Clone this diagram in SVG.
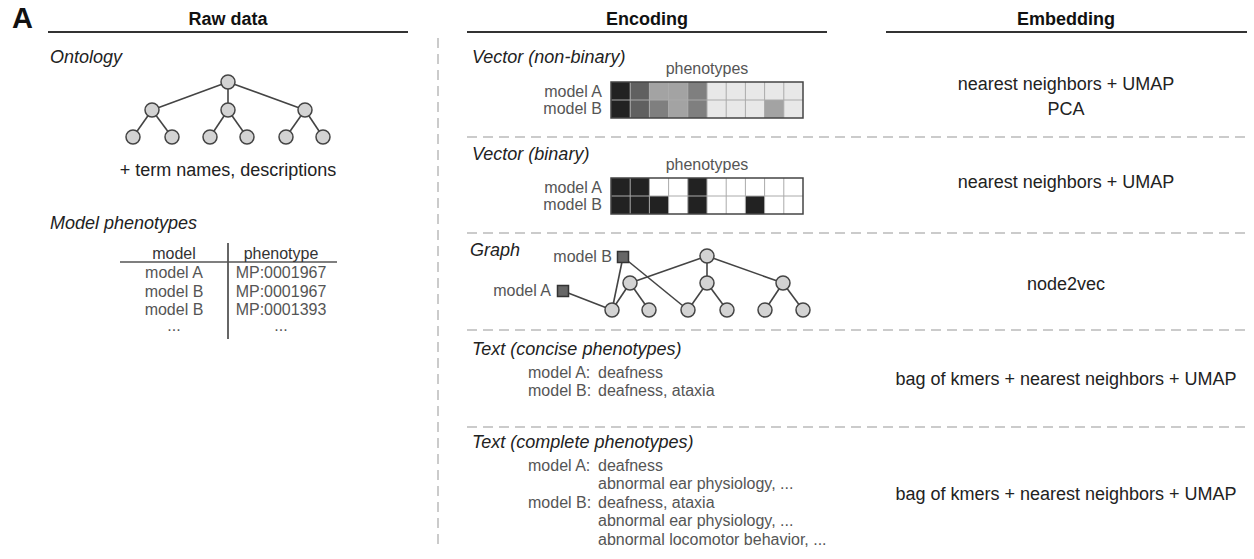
<svg xmlns="http://www.w3.org/2000/svg" width="1254" height="559" viewBox="0 0 1254 559">
<style>
text{font-family:"Liberation Sans",Arial,sans-serif}
.hdr{font-size:18px;font-weight:bold;fill:#111;text-anchor:middle}
.ttl{font-size:18px;font-style:italic;fill:#222}
.lbl{font-size:16px;fill:#555}
.end{text-anchor:end}
.mid{text-anchor:middle}
.emb{font-size:18px;fill:#222;text-anchor:middle}
.hline{stroke:#333;stroke-width:2}
.dash{stroke:#bbb;stroke-width:1.5;stroke-dasharray:10 6;fill:none}
.edge{stroke:#444;stroke-width:1.6;fill:none}
.nd{fill:#d3d3d3;stroke:#444;stroke-width:1.5}
.sq{fill:#666;stroke:#333;stroke-width:1.5}
.gl{stroke:#aaa;stroke-width:1}
.gb{fill:none;stroke:#444;stroke-width:1.5}
</style>
<defs>
<circle id="c" r="7" class="nd"/>
</defs>
<rect width="1254" height="559" fill="#fff"/>

<g id="headers">
<text x="12" y="28" style="font-size:29px;font-weight:bold;fill:#111">A</text>
<text x="228" y="25" class="hdr">Raw data</text>
<line x1="48" y1="32" x2="408" y2="32" class="hline"/>
<text x="647" y="25" class="hdr">Encoding</text>
<line x1="467" y1="32" x2="827" y2="32" class="hline"/>
<text x="1066" y="25" class="hdr">Embedding</text>
<line x1="886" y1="32" x2="1247" y2="32" class="hline"/>
</g>

<g id="separators">
<line x1="438" y1="38" x2="438" y2="548" class="dash"/>
<line x1="467" y1="137" x2="1247" y2="137" class="dash"/>
<line x1="467" y1="233" x2="1247" y2="233" class="dash"/>
<line x1="467" y1="330" x2="1247" y2="330" class="dash"/>
<line x1="467" y1="427" x2="1247" y2="427" class="dash"/>
</g>

<g id="ontology">
<text x="50" y="63" class="ttl">Ontology</text>
<g class="edge">
<line x1="228" y1="82" x2="152" y2="110"/>
<line x1="228" y1="82" x2="228" y2="110"/>
<line x1="228" y1="82" x2="305" y2="110"/>
<line x1="152" y1="110" x2="133" y2="137"/>
<line x1="152" y1="110" x2="172" y2="137"/>
<line x1="228" y1="110" x2="210" y2="137"/>
<line x1="228" y1="110" x2="247" y2="137"/>
<line x1="305" y1="110" x2="286" y2="137"/>
<line x1="305" y1="110" x2="323" y2="137"/>
</g>
<use href="#c" x="228" y="82"/>
<use href="#c" x="152" y="110"/>
<use href="#c" x="228" y="110"/>
<use href="#c" x="305" y="110"/>
<use href="#c" x="133" y="137"/>
<use href="#c" x="172" y="137"/>
<use href="#c" x="210" y="137"/>
<use href="#c" x="247" y="137"/>
<use href="#c" x="286" y="137"/>
<use href="#c" x="323" y="137"/>
<text x="228" y="176" class="mid" style="font-size:18px;fill:#222">+ term names, descriptions</text>
</g>

<g id="model-phenotypes">
<text x="50" y="229" class="ttl">Model phenotypes</text>
<line x1="228" y1="243" x2="228" y2="339" stroke="#333" stroke-width="1.5"/>
<line x1="120" y1="262" x2="337" y2="262" stroke="#555" stroke-width="1.5"/>
<text x="174" y="259" class="lbl mid" style="fill:#333">model</text>
<text x="281" y="259" class="lbl mid" style="fill:#333">phenotype</text>
<text x="174" y="278" class="lbl mid">model A</text>
<text x="174" y="297" class="lbl mid">model B</text>
<text x="174" y="315" class="lbl mid">model B</text>
<text x="174" y="331" class="lbl mid">...</text>
<text x="281" y="278" class="lbl mid">MP:0001967</text>
<text x="281" y="297" class="lbl mid">MP:0001967</text>
<text x="281" y="315" class="lbl mid">MP:0001393</text>
<text x="281" y="331" class="lbl mid">...</text>
</g>

<g id="vector-nonbinary">
<text x="472" y="63" class="ttl">Vector (non-binary)</text>
<text x="707" y="74" class="lbl mid">phenotypes</text>
<text x="602" y="97" class="lbl end">model A</text>
<text x="602" y="114" class="lbl end">model B</text>
<g>
<rect x="611" y="82" width="19.2" height="18" fill="#222"/>
<rect x="630.2" y="82" width="19.2" height="18" fill="#606060"/>
<rect x="649.4" y="82" width="19.2" height="18" fill="#a3a3a3"/>
<rect x="668.6" y="82" width="19.2" height="18" fill="#a3a3a3"/>
<rect x="687.8" y="82" width="19.2" height="18" fill="#7f7f7f"/>
<rect x="707" y="82" width="96" height="18" fill="#e8e8e8"/>
<rect x="611" y="100" width="19.2" height="18" fill="#222"/>
<rect x="630.2" y="100" width="19.2" height="18" fill="#606060"/>
<rect x="649.4" y="100" width="19.2" height="18" fill="#7f7f7f"/>
<rect x="668.6" y="100" width="19.2" height="18" fill="#a3a3a3"/>
<rect x="687.8" y="100" width="19.2" height="18" fill="#7f7f7f"/>
<rect x="707" y="100" width="96" height="18" fill="#e8e8e8"/>
<rect x="764.6" y="100" width="19.2" height="18" fill="#a3a3a3"/>
</g>
<g class="gl">
<line x1="611" y1="100" x2="803" y2="100"/>
<line x1="630.2" y1="82" x2="630.2" y2="118"/>
<line x1="649.4" y1="82" x2="649.4" y2="118"/>
<line x1="668.6" y1="82" x2="668.6" y2="118"/>
<line x1="687.8" y1="82" x2="687.8" y2="118"/>
<line x1="707" y1="82" x2="707" y2="118"/>
<line x1="726.2" y1="82" x2="726.2" y2="118"/>
<line x1="745.4" y1="82" x2="745.4" y2="118"/>
<line x1="764.6" y1="82" x2="764.6" y2="118"/>
<line x1="783.8" y1="82" x2="783.8" y2="118"/>
</g>
<rect x="611" y="82" width="192" height="36" class="gb"/>
</g>

<g id="vector-binary">
<text x="472" y="160" class="ttl">Vector (binary)</text>
<text x="707" y="170" class="lbl mid">phenotypes</text>
<text x="602" y="193" class="lbl end">model A</text>
<text x="602" y="210" class="lbl end">model B</text>
<rect x="611" y="178" width="192" height="36" fill="#fff"/>
<g fill="#222">
<rect x="611" y="178" width="38.4" height="18"/>
<rect x="687.8" y="178" width="19.2" height="36"/>
<rect x="611" y="196" width="57.6" height="18"/>
<rect x="745.4" y="196" width="19.2" height="18"/>
</g>
<g class="gl">
<line x1="611" y1="196" x2="803" y2="196"/>
<line x1="630.2" y1="178" x2="630.2" y2="214"/>
<line x1="649.4" y1="178" x2="649.4" y2="214"/>
<line x1="668.6" y1="178" x2="668.6" y2="214"/>
<line x1="687.8" y1="178" x2="687.8" y2="214"/>
<line x1="707" y1="178" x2="707" y2="214"/>
<line x1="726.2" y1="178" x2="726.2" y2="214"/>
<line x1="745.4" y1="178" x2="745.4" y2="214"/>
<line x1="764.6" y1="178" x2="764.6" y2="214"/>
<line x1="783.8" y1="178" x2="783.8" y2="214"/>
</g>
<rect x="611" y="178" width="192" height="36" class="gb"/>
</g>

<g id="graph">
<text x="470" y="256" class="ttl">Graph</text>
<text x="612" y="262" class="lbl end">model B</text>
<text x="551" y="296" class="lbl end">model A</text>
<g class="edge">
<line x1="707" y1="256" x2="630" y2="283"/>
<line x1="707" y1="256" x2="707" y2="283"/>
<line x1="707" y1="256" x2="783" y2="283"/>
<line x1="630" y1="283" x2="612" y2="310"/>
<line x1="630" y1="283" x2="649" y2="310"/>
<line x1="707" y1="283" x2="688" y2="310"/>
<line x1="707" y1="283" x2="727" y2="310"/>
<line x1="783" y1="283" x2="765" y2="310"/>
<line x1="783" y1="283" x2="803" y2="310"/>
<line x1="623" y1="257" x2="612" y2="310"/>
<line x1="623" y1="257" x2="688" y2="310"/>
<line x1="563" y1="291" x2="612" y2="310"/>
</g>
<use href="#c" x="707" y="256"/>
<use href="#c" x="630" y="283"/>
<use href="#c" x="707" y="283"/>
<use href="#c" x="783" y="283"/>
<use href="#c" x="612" y="310"/>
<use href="#c" x="649" y="310"/>
<use href="#c" x="688" y="310"/>
<use href="#c" x="727" y="310"/>
<use href="#c" x="765" y="310"/>
<use href="#c" x="803" y="310"/>
<rect x="617.5" y="251.5" width="11" height="11" class="sq"/>
<rect x="557.5" y="285.5" width="11" height="11" class="sq"/>
</g>

<g id="text-concise">
<text x="472" y="355" class="ttl">Text (concise phenotypes)</text>
<text x="528" y="378" class="lbl">model A:</text>
<text x="598" y="378" class="lbl">deafness</text>
<text x="528" y="396" class="lbl">model B:</text>
<text x="598" y="396" class="lbl">deafness, ataxia</text>
</g>

<g id="text-complete">
<text x="472" y="448" class="ttl">Text (complete phenotypes)</text>
<text x="528" y="471" class="lbl">model A:</text>
<text x="598" y="471" class="lbl">deafness</text>
<text x="598" y="489" class="lbl">abnormal ear physiology, ...</text>
<text x="528" y="508" class="lbl">model B:</text>
<text x="598" y="508" class="lbl">deafness, ataxia</text>
<text x="598" y="526" class="lbl">abnormal ear physiology, ...</text>
<text x="598" y="545" class="lbl">abnormal locomotor behavior, ...</text>
</g>

<g id="embedding">
<text x="1066" y="90" class="emb">nearest neighbors + UMAP</text>
<text x="1066" y="115" class="emb">PCA</text>
<text x="1066" y="188" class="emb">nearest neighbors + UMAP</text>
<text x="1066" y="290" class="emb">node2vec</text>
<text x="1066" y="385" class="emb">bag of kmers + nearest neighbors + UMAP</text>
<text x="1066" y="500" class="emb">bag of kmers + nearest neighbors + UMAP</text>
</g>
</svg>
